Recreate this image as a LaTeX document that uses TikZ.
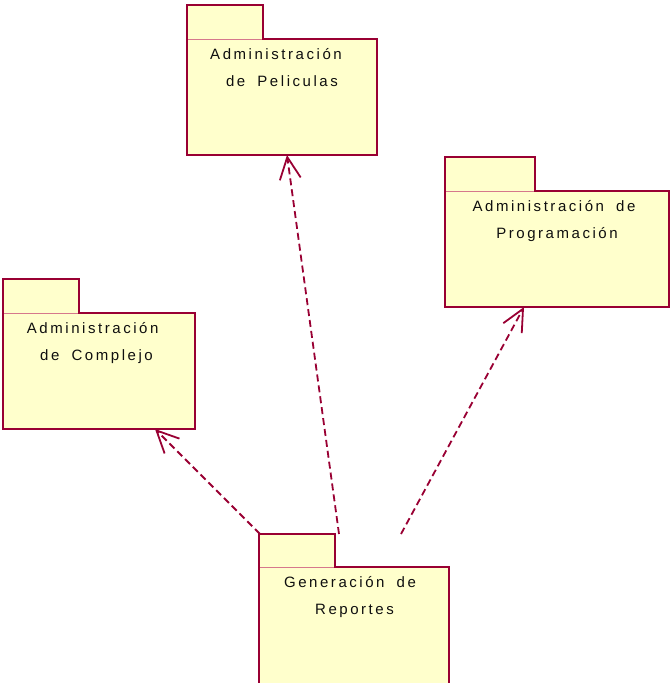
\documentclass[tikz,border=0pt]{standalone}
\usepackage{fontspec}
\setmainfont{Liberation Sans}[LetterSpace=17, WordSpace=1.8]
\usetikzlibrary{arrows.meta}
\definecolor{pkgborder}{RGB}{153,0,51}
\definecolor{pkgfill}{RGB}{255,255,204}
\definecolor{pkgdivider}{RGB}{214,120,140}
\definecolor{pkgtext}{RGB}{15,15,15}
\tikzset{
  pkgpart/.style={draw=none, fill=pkgfill, inner sep=0pt, outer sep=0pt, rectangle},
  pkgoutline/.style={draw=pkgborder, line width=2pt, line join=miter},
  pkgdiv/.style={draw=pkgdivider, line width=0.8pt},
  pkglabel/.style={anchor=base, inner sep=0pt, text=pkgtext, font=\fontsize{15}{18}\selectfont},
  dep/.style={draw=pkgborder, line width=1.8pt, dash pattern=on 7pt off 4pt,
    -{Straight Barb[length=22pt, width=21pt, line width=1.8pt]}}
}
\newcommand{\umlpackage}[7]{%
  % #1 name, #2 body corner (north west), #3 body width, #4 body height, #5 tab width, #6 tab height
  \node[pkgpart, minimum width=#3pt, minimum height=#4pt, anchor=north west] (#1) at #2 {};
  \node[pkgpart, minimum width=#5pt, minimum height=#6pt, anchor=south west] (#1tab) at (#1.north west) {};
  \draw[pkgdiv] (#1tab.south west) -- (#1tab.south east);
  \draw[pkgoutline] (#1tab.south west) |- (#1tab.north east) |- (#1.north east) |- (#1.south west) -- cycle;
  #7
}
\begin{document}
\begin{tikzpicture}[x=1pt, y=-1pt]
  \useasboundingbox (0,0) rectangle (670,683);

  \umlpackage{pel}{(187,39)}{190}{116}{76}{34}{
    \node[pkglabel] (pelA) at (276,59.7) {Administración};
    \node[pkglabel] (pelB) at (282,86.7) {de Peliculas};
  }
  \umlpackage{prog}{(445,191)}{224}{116}{90}{34}{
    \node[pkglabel] (progA) at (554,211.7) {Administración de};
    \node[pkglabel] (progB) at (557,238.7) {Programación};
  }
  \umlpackage{com}{(3,313)}{192}{116}{76}{34}{
    \node[pkglabel] (comA) at (92.7,333.7) {Administración};
    \node[pkglabel] (comB) at (96.5,360.7) {de Complejo};
  }
  \umlpackage{rep}{(259,567)}{190}{118}{76}{33}{
    \node[pkglabel] (repA) at (350,587.7) {Generación de};
    \node[pkglabel] (repB) at (354.5,614.7) {Reportes};
  }

  % dependencies of the report package
  \draw[dep] ([xshift=1pt]reptab.north west) -- ([xshift=-40pt]com.south east);
  \draw[dep] ([xshift=4pt]reptab.north east) -- ([xshift=5pt]pel.south);
  \draw[dep] ([xshift=66pt]reptab.north east) -- ([xshift=79pt]prog.south west);
\end{tikzpicture}
\end{document}
